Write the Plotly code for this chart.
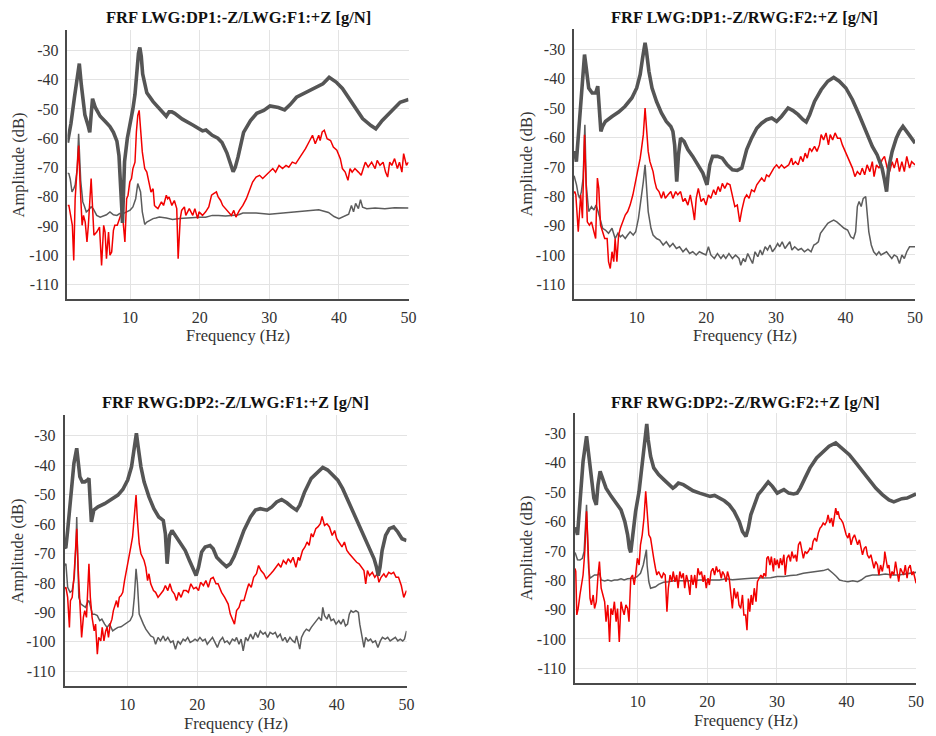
import plotly.graph_objects as go

# ---------------- data (frequency Hz, amplitude dB) ----------------
titles = ["FRF LWG:DP1:-Z/LWG:F1:+Z [g/N]", "FRF LWG:DP1:-Z/RWG:F2:+Z [g/N]",
          "FRF RWG:DP2:-Z/LWG:F1:+Z [g/N]", "FRF RWG:DP2:-Z/RWG:F2:+Z [g/N]"]
x_ticks = [10, 20, 30, 40, 50]
y_ticks = [-110, -100, -90, -80, -70, -60, -50, -40, -30]

p1_thick = [(1.0,-61.5),(1.5,-55),(2.0,-46),(2.4,-38),(2.7,-34.5),(3.0,-42),(3.5,-52),(4.0,-56),(4.2,-58),(4.4,-52),(4.6,-46.5),(5.0,-49.5),(5.7,-52.5),(6.5,-54.5),(7.1,-56),(7.6,-58),(8.1,-61),(8.4,-66),(8.6,-73),(8.8,-84),(8.9,-89),(9.0,-84),(9.2,-68),(9.6,-60),(10.0,-55.5),(10.4,-50),(10.7,-45),(11.0,-36),(11.2,-31),(11.4,-29),(11.6,-32),(11.8,-38),(12.1,-42),(12.4,-44.5),(13.3,-47.5),(14.2,-50),(14.8,-51.5),(15.2,-52.5),(15.6,-51),(16.0,-51),(16.4,-51.5),(17.5,-53.5),(19.0,-55.5),(20.4,-57.5),(20.9,-57.2),(21.8,-59),(22.6,-60),(23.2,-61.5),(23.9,-65),(24.4,-69),(24.8,-71.5),(25.1,-70),(25.5,-66.5),(26.3,-58),(27.3,-54),(28.2,-51.5),(29.2,-50.5),(30.1,-49),(31.3,-49.5),(32.2,-50.3),(33.0,-48.5),(33.9,-46),(35.3,-44.3),(36.7,-42.6),(37.7,-41.4),(38.6,-39.2),(39.6,-40.8),(40.5,-43),(41.9,-48),(43.4,-53.3),(44.6,-55.7),(45.3,-56.8),(46.2,-54),(47.6,-50.5),(48.8,-47.7),(50.0,-46.8)]

p1_red = [(1.0,-83),(1.2,-83),(1.7,-89.8),(1.9,-101.8),(2.1,-80.7),(2.4,-71.6),(2.6,-62.5),(2.8,-75),(3.1,-89.8),(3.3,-86.4),(3.55,-88.7),(3.8,-95.5),(4.0,-89.8),(4.4,-73.8),(4.6,-85.2),(4.8,-93.2),(5.2,-92.1),(5.6,-90.4),(5.9,-103.5),(6.2,-89.8),(6.4,-92.1),(6.6,-101.2),(6.9,-92.1),(7.1,-100),(7.35,-98.9),(7.6,-91.5),(7.8,-89.8),(8.15,-89.8),(8.4,-88.1),(8.8,-85.2),(9.0,-88.7),(9.25,-95.5),(9.5,-80.7),(9.7,-79.5),(9.95,-75),(10.2,-73.8),(10.4,-70.4),(10.7,-68.2),(10.9,-57.9),(11.1,-52.2),(11.3,-50.5),(11.5,-55.6),(11.75,-64.7),(12.1,-70.4),(12.4,-71.6),(12.7,-75),(13.0,-78.4),(13.3,-77.3),(13.5,-83),(13.7,-83.5),(14.0,-84.1),(14.5,-81.8),(14.8,-83),(15.2,-79.5),(15.4,-80.7),(15.6,-80.1),(16.0,-83),(16.35,-81.3),(16.7,-84.1),(16.9,-101.2),(17.2,-87.5),(17.4,-84.7),(17.8,-83.5),(18.0,-86.4),(18.5,-84.1),(19.0,-86.4),(19.3,-84.1),(19.7,-87.5),(19.9,-85.2),(20.4,-86.4),(20.85,-85.2),(21.3,-83.5),(21.7,-79.5),(22.0,-79),(22.4,-78.4),(22.65,-80.1),(23.0,-81.3),(23.3,-83),(23.7,-84.1),(24.2,-85.2),(24.55,-86.4),(24.9,-84.7),(25.2,-87),(25.7,-84.7),(26.2,-83),(26.7,-80.7),(27.2,-77.3),(27.6,-75),(28.1,-73.3),(28.6,-72.7),(29.05,-73.8),(29.5,-72.7),(30.0,-71.6),(30.5,-70.4),(30.9,-71.6),(31.4,-69.3),(31.9,-70.4),(32.4,-69.3),(32.8,-69.9),(33.3,-68.2),(33.8,-68.7),(34.3,-67),(34.7,-65.3),(35.2,-63.6),(35.7,-61.3),(36.2,-59),(36.6,-61.9),(37.1,-59),(37.3,-60.8),(37.6,-57.9),(37.9,-57.3),(38.3,-60.2),(38.8,-60.8),(39.2,-63),(39.7,-64.1),(40.2,-67),(40.5,-70.4),(40.9,-71.6),(41.3,-74.4),(41.6,-70.4),(41.9,-71.6),(42.3,-70.4),(42.8,-71.6),(43.2,-72.7),(43.5,-70.4),(43.8,-68.2),(44.2,-69.9),(44.7,-68.2),(45.2,-70.4),(45.5,-67.6),(45.9,-69.3),(46.35,-68.2),(46.7,-71.6),(47.0,-73.3),(47.3,-68.2),(47.6,-69.3),(48.0,-67),(48.4,-70.4),(48.7,-68.2),(49.05,-71.6),(49.3,-65.3),(49.7,-69.3),(50.0,-68.2)]

p1_thin = [(1.0,-72),(1.2,-72.1),(1.4,-74),(1.65,-78.4),(1.9,-77.3),(2.1,-76),(2.4,-70.4),(2.6,-58.5),(2.9,-74.5),(3.2,-81.8),(3.4,-83),(3.7,-85.2),(4.0,-84.6),(4.4,-83.5),(4.7,-84.1),(5.2,-86.4),(5.7,-87),(6.2,-86.4),(6.6,-86.2),(7.1,-85.2),(7.6,-86.2),(8.1,-86.4),(8.5,-85.8),(9.0,-85.8),(9.5,-85.2),(10.0,-84.6),(10.4,-83.5),(10.8,-80.7),(11.1,-75.5),(11.5,-78.4),(11.75,-85.2),(12.1,-89.5),(12.4,-88.7),(12.8,-88.1),(13.3,-87.5),(13.7,-87.3),(14.2,-87),(15.2,-87.3),(16.1,-87.8),(17.1,-87.5),(18.0,-87.3),(19.0,-87),(19.9,-87),(20.85,-87),(21.8,-86.4),(22.7,-86.4),(23.7,-86.6),(24.6,-86.4),(25.6,-86.2),(26.2,-85.6),(28.1,-85.6),(30.0,-86),(31.9,-85.6),(33.8,-85.2),(35.7,-84.6),(37.1,-84.5),(38.5,-85.4),(39.3,-86.8),(40.0,-87.5),(40.9,-86.6),(41.4,-86),(41.8,-83),(42.1,-85.2),(42.4,-82.3),(42.8,-84.1),(43.1,-81),(43.4,-83.6),(44.0,-84.1),(45.2,-83.9),(46.6,-84.1),(48.0,-83.8),(50.0,-83.9)]

p2_thick = [(1.0,-65.5),(1.1,-64.7),(1.33,-68.2),(1.7,-55.6),(2.2,-40.8),(2.5,-31.7),(2.75,-36.3),(3.1,-43.1),(3.6,-44.8),(4.1,-44.8),(4.4,-42.5),(4.65,-51.1),(4.85,-57.9),(5.1,-56.2),(5.5,-54.5),(6.45,-52.8),(7.4,-51.3),(8.3,-49.4),(9.3,-46.5),(10.0,-43.1),(10.5,-38.5),(10.85,-32.8),(11.2,-27.7),(11.4,-30.6),(11.75,-37.4),(12.2,-43.1),(12.85,-47.7),(13.55,-51.6),(14.25,-54.5),(14.9,-56.2),(15.2,-57.9),(15.45,-62.5),(15.75,-75),(16.0,-65.9),(16.3,-60.2),(16.8,-61.3),(17.35,-64.1),(18.05,-66.4),(18.8,-69.3),(19.5,-72.1),(20.1,-76.1),(20.5,-69.3),(20.9,-66.4),(21.6,-66.4),(22.3,-67),(23.0,-69.3),(23.75,-71),(24.45,-71.2),(25.1,-70.4),(25.8,-64.1),(26.5,-60.2),(27.25,-56.8),(27.95,-55.1),(28.65,-53.9),(29.4,-53.3),(30.1,-54.5),(30.8,-52.8),(31.75,-49.9),(32.45,-50.8),(33.2,-52.2),(33.9,-53.9),(34.35,-54.7),(34.85,-52.2),(35.55,-47.7),(36.5,-43.7),(37.45,-40.8),(38.3,-39.5),(39.1,-40.8),(40.05,-43.1),(41.0,-47.1),(41.95,-52.2),(42.9,-57.9),(43.85,-63),(44.55,-65.9),(45.25,-70.4),(45.6,-74.4),(45.9,-78.4),(46.2,-70.4),(46.7,-64.7),(47.3,-60.2),(47.75,-57.9),(48.25,-56.2),(48.7,-57.9),(49.3,-59.6),(50.0,-61.9)]

p2_red = [(1.0,-79),(1.1,-78.4),(1.25,-79.5),(1.6,-92.1),(1.95,-79.5),(2.2,-87.5),(2.5,-59),(2.65,-69.3),(2.9,-88.7),(3.2,-89.8),(3.5,-88.7),(3.85,-92.1),(4.1,-94.4),(4.35,-73.8),(4.55,-77.3),(4.8,-89.8),(5.1,-92.1),(5.4,-94.4),(5.75,-94.4),(5.95,-102.3),(6.2,-104.6),(6.45,-98.9),(6.7,-102.3),(6.9,-94.4),(7.15,-102.3),(7.4,-93.2),(7.65,-90.9),(7.95,-88.7),(8.35,-86.4),(8.7,-85.2),(9.05,-83),(9.45,-79.5),(9.75,-76.1),(10.0,-72.7),(10.25,-69.3),(10.5,-67),(10.7,-63.6),(10.95,-59),(11.2,-49.9),(11.4,-57.9),(11.65,-64.7),(11.9,-68.2),(12.15,-70.4),(12.35,-71.6),(12.6,-75),(12.85,-77.3),(13.2,-78.4),(13.55,-80.7),(13.85,-78.4),(14.1,-80.7),(14.5,-79.5),(14.9,-78.4),(15.2,-80.7),(15.6,-78.4),(15.9,-79.5),(16.3,-78.4),(16.65,-81.8),(16.95,-80.7),(17.35,-83),(17.7,-79.5),(18.05,-84.1),(18.3,-88.1),(18.55,-80.7),(18.85,-77.3),(19.25,-81.8),(19.6,-80.7),(19.95,-83),(20.3,-79.5),(20.65,-80.7),(21.05,-77.8),(21.35,-79.5),(21.7,-76.7),(22.0,-78.4),(22.3,-75.6),(22.65,-77.3),(23.0,-75.6),(23.4,-76.1),(23.75,-79.5),(24.1,-83.5),(24.45,-83),(24.8,-88.7),(25.1,-84.7),(25.5,-80.7),(25.8,-79.5),(26.15,-80.7),(26.5,-77.8),(26.9,-78.4),(27.25,-76.1),(27.6,-75),(27.95,-73.8),(28.35,-75),(28.65,-72.7),(29.0,-73.3),(29.4,-71.6),(29.7,-70.4),(30.1,-69.3),(30.45,-70.4),(30.8,-69.3),(31.2,-70.4),(31.5,-69.9),(31.85,-69.3),(32.25,-67),(32.45,-69.3),(32.8,-68.2),(33.2,-69.3),(33.55,-66.4),(33.9,-68.2),(34.2,-65.3),(34.5,-67),(34.85,-63.6),(35.15,-64.7),(35.55,-63),(35.9,-64.7),(36.25,-62.5),(36.5,-59),(36.85,-60.8),(37.2,-58.4),(37.55,-62.5),(37.8,-59),(38.15,-60.8),(38.5,-58.4),(38.85,-60.2),(39.25,-60.2),(39.55,-62.5),(40.05,-65.3),(40.5,-68.2),(41.0,-70.4),(41.35,-73.3),(41.7,-71.6),(42.1,-72.7),(42.4,-70.4),(42.75,-72.7),(43.1,-69.3),(43.5,-71.6),(43.85,-68.2),(44.1,-73.3),(44.45,-69.3),(44.8,-70.4),(45.25,-67.6),(45.6,-66.4),(46.0,-70.4),(46.35,-71.6),(46.7,-68.2),(47.0,-70.4),(47.4,-67),(47.75,-71.6),(48.1,-68.2),(48.45,-71.6),(48.8,-66.4),(49.2,-70.4),(49.5,-68.2),(50.0,-69.3)]

p2_thin = [(1.0,-73),(1.1,-73.8),(1.35,-76.1),(1.6,-79.5),(1.8,-80.7),(2.05,-78.4),(2.3,-73.8),(2.55,-55.6),(2.75,-76.1),(3.1,-85.2),(3.5,-83.5),(3.85,-84.7),(4.15,-83),(4.45,-85.2),(4.8,-88.7),(5.1,-90.9),(5.5,-91.5),(5.95,-92.6),(6.45,-90.9),(6.9,-94.4),(7.3,-92.6),(7.65,-93.8),(7.95,-93.2),(8.35,-94.4),(8.7,-93.2),(9.05,-92.1),(9.5,-93.2),(9.85,-92.1),(10.25,-87.5),(10.6,-81.8),(10.95,-75),(11.2,-69.3),(11.4,-78.4),(11.65,-85.2),(12.05,-90.9),(12.35,-93.2),(12.85,-94.4),(13.3,-94.9),(13.8,-96.6),(14.25,-95.5),(14.75,-97.2),(15.2,-96.1),(15.7,-97.8),(16.15,-97.2),(16.65,-98.9),(17.1,-97.8),(17.6,-99.5),(18.05,-98.9),(18.55,-100),(19.0,-98.9),(19.5,-99.5),(19.95,-100),(20.3,-97.2),(20.65,-100),(21.15,-101.2),(21.6,-99.5),(22.1,-101.2),(22.45,-100),(22.8,-101.2),(23.25,-99.5),(23.75,-101.2),(24.2,-100),(24.7,-101.2),(24.95,-103.5),(25.3,-101.2),(25.6,-102.3),(25.95,-99.5),(26.3,-101.2),(26.65,-102.9),(27.0,-98.9),(27.4,-100.6),(27.75,-98.3),(28.05,-100),(28.45,-97.2),(28.8,-98.3),(29.15,-96.6),(29.5,-98.9),(29.85,-97.8),(30.25,-96.1),(30.55,-97.2),(30.9,-95.5),(31.3,-97.8),(31.65,-96.6),(32.0,-95.5),(32.3,-98.3),(32.7,-97.2),(33.2,-98.3),(33.65,-97.8),(34.1,-98.9),(34.6,-98),(35.05,-98.9),(35.45,-96.6),(35.8,-96.1),(36.1,-95.5),(36.4,-92.6),(36.75,-91.5),(37.05,-90.4),(37.45,-89.2),(37.8,-88.7),(38.3,-88.1),(38.75,-88.7),(39.25,-89.8),(39.8,-90.9),(40.3,-91.5),(40.75,-93.8),(41.15,-94.4),(41.45,-92.1),(41.7,-83.5),(41.95,-81.8),(42.25,-83.5),(42.55,-80.7),(42.9,-80.1),(43.1,-85.2),(43.35,-92.1),(43.7,-96.6),(44.05,-98.9),(44.45,-100),(44.8,-98.9),(45.1,-100),(45.5,-99.5),(45.9,-98.9),(46.25,-100),(46.65,-101.2),(47.0,-100),(47.4,-100.6),(47.75,-102.9),(48.1,-100),(48.45,-101.2),(48.8,-98.9),(49.2,-97.2),(49.5,-97.2),(50.0,-97.2)]

p3_thick = [(1.0,-68),(1.2,-67.8),(1.45,-62.2),(1.95,-49.7),(2.35,-39.4),(2.75,-34.3),(2.95,-38.3),(3.2,-44),(3.55,-45.7),(3.9,-45.7),(4.3,-45.1),(4.5,-44.5),(4.7,-53.1),(4.85,-59.3),(5.2,-55.3),(5.8,-54.2),(6.75,-53.1),(7.7,-51.7),(8.65,-50.2),(9.35,-48.3),(10.05,-45.1),(10.6,-40.6),(11.0,-34.9),(11.3,-29.2),(11.55,-33.8),(11.95,-40.6),(12.4,-45.7),(13.1,-50.8),(13.8,-54.8),(14.5,-57.6),(15.15,-58.8),(15.45,-63.3),(15.7,-73.5),(16.05,-63.9),(16.4,-62.2),(16.9,-63.9),(17.6,-66.7),(18.3,-69),(18.9,-72.4),(19.5,-75.8),(19.85,-77.5),(20.2,-74.7),(20.65,-69.5),(21.15,-67.8),(21.85,-67.3),(22.3,-68.4),(22.8,-71.3),(23.5,-73),(24.2,-74.5),(24.75,-73.5),(25.3,-71),(26.0,-66.7),(26.7,-62.2),(27.65,-57.6),(28.35,-55.3),(29.05,-54.8),(30.0,-55.3),(30.7,-54.2),(31.4,-52.5),(32.1,-51.7),(32.85,-52.8),(33.55,-54.2),(34.25,-55.3),(34.7,-53.6),(35.4,-49.1),(36.35,-44.5),(37.3,-42.3),(38.0,-40.8),(38.7,-41.7),(39.45,-43.4),(40.15,-45.1),(40.85,-48),(41.8,-53.1),(42.75,-58.2),(43.7,-63.3),(44.6,-67.8),(45.35,-71.8),(45.7,-74.7),(45.95,-77.5),(46.2,-74.7),(46.5,-69),(47.0,-63.9),(47.55,-61.6),(48.15,-61),(48.75,-62.7),(49.35,-65),(50.0,-65.6)]

p3_red = [(1.0,-82),(1.2,-81.5),(1.45,-84.9),(1.7,-95.1),(1.85,-86),(2.1,-84.9),(2.35,-78.1),(2.6,-66.7),(2.75,-61.6),(2.95,-74.7),(3.2,-89.4),(3.45,-98.5),(3.7,-91.7),(3.9,-89.4),(4.15,-91.7),(4.5,-73.5),(4.7,-84.9),(4.95,-91.7),(5.25,-96.3),(5.45,-94),(5.7,-104.2),(5.9,-98.5),(6.2,-99.7),(6.4,-95.1),(6.65,-99.7),(6.9,-96.3),(7.1,-95.1),(7.3,-98.5),(7.55,-94),(7.8,-92.3),(8.0,-89.4),(8.25,-87.7),(8.45,-86),(8.65,-88.3),(8.85,-84.9),(9.1,-84.3),(9.35,-83.2),(9.6,-79.2),(9.8,-76.9),(10.05,-73.5),(10.3,-71.3),(10.5,-67.8),(10.75,-64.4),(11.0,-57.6),(11.25,-50.2),(11.45,-58.8),(11.7,-66.7),(11.95,-70.1),(12.15,-71.3),(12.4,-72.4),(12.65,-74.7),(12.9,-79.2),(13.1,-76.9),(13.35,-80.3),(13.75,-82.6),(14.05,-83.2),(14.4,-84.9),(14.75,-83.8),(15.15,-82.6),(15.45,-80.9),(15.8,-82.6),(16.1,-80.3),(16.4,-82.6),(16.75,-83.8),(17.05,-86),(17.35,-83.2),(17.7,-84.9),(18.05,-82.6),(18.45,-82.6),(18.75,-83.2),(19.1,-80.3),(19.5,-82),(19.85,-81.5),(20.2,-82.6),(20.5,-79.8),(20.9,-80.9),(21.25,-79.2),(21.6,-81.5),(21.95,-78.6),(22.3,-78.1),(22.7,-80.3),(23.0,-80.3),(23.5,-83.2),(23.95,-84.9),(24.45,-87.2),(24.75,-90.6),(25.05,-92.3),(25.35,-94),(25.65,-89.4),(26.0,-88.3),(26.3,-86),(26.7,-86),(27.1,-82.6),(27.4,-80.3),(27.75,-81.5),(28.1,-78.1),(28.5,-76.9),(28.8,-74.1),(29.15,-75.8),(29.55,-76.9),(29.9,-78.6),(30.25,-77.5),(30.55,-76.9),(30.95,-75.8),(31.3,-74.7),(31.65,-73.5),(32.0,-74.7),(32.35,-72.4),(32.75,-73.5),(33.05,-71.8),(33.4,-73),(33.75,-71.3),(34.15,-74.7),(34.5,-71.3),(34.7,-72.4),(35.1,-69),(35.45,-67.8),(35.75,-66.1),(36.05,-67.3),(36.35,-63.3),(36.6,-64.4),(37.0,-61.6),(37.3,-61),(37.65,-59.9),(37.9,-57.4),(38.25,-60.5),(38.6,-59.9),(38.95,-61),(39.35,-63.9),(39.7,-62.2),(40.0,-65),(40.4,-66.7),(40.75,-67.8),(41.1,-66.1),(41.45,-69),(41.8,-70.1),(42.2,-71.3),(42.5,-71.8),(42.85,-73),(43.2,-73.5),(43.6,-74.7),(43.9,-75.8),(44.15,-80.3),(44.4,-75.8),(44.7,-77.5),(45.1,-76.4),(45.45,-78.1),(45.8,-76.9),(46.05,-79.8),(46.35,-78.1),(46.75,-76.9),(47.05,-78.1),(47.45,-76.4),(47.8,-76.9),(48.15,-76.4),(48.5,-78.1),(48.85,-78.1),(49.25,-80.9),(49.6,-84.9),(50.0,-82.6)]

p3_thin = [(1.0,-74),(1.2,-73.5),(1.45,-81.5),(1.8,-83.2),(2.1,-82.6),(2.4,-78.1),(2.65,-66.7),(2.75,-57.6),(2.9,-72.4),(3.05,-84.9),(3.35,-87.2),(3.7,-87.7),(4.0,-88.3),(4.3,-86.6),(4.5,-86),(4.75,-88.3),(5.0,-90.6),(5.3,-90.6),(5.7,-91.1),(6.05,-92.8),(6.35,-92.3),(6.75,-94),(7.1,-95.1),(7.45,-94),(7.7,-95.1),(7.9,-96.3),(8.25,-95.7),(8.65,-95.1),(9.1,-94.9),(9.6,-94),(10.05,-93.4),(10.4,-92.8),(10.75,-91.1),(11.0,-84.9),(11.25,-75.2),(11.45,-80.3),(11.7,-90.6),(11.95,-92.3),(12.3,-94),(12.65,-95.7),(12.95,-96.8),(13.35,-98),(13.75,-98.5),(14.05,-100.8),(14.4,-98.5),(14.75,-99.7),(15.15,-98),(15.45,-99.7),(15.8,-98.5),(16.2,-100.2),(16.55,-99.7),(16.9,-102.5),(17.25,-99.7),(17.6,-100.8),(18.0,-99.1),(18.3,-99.7),(18.65,-98.5),(19.0,-100.2),(19.4,-99.7),(19.7,-99.1),(20.05,-99.7),(20.4,-98.5),(20.8,-99.7),(21.15,-99.1),(21.45,-100.8),(21.85,-99.7),(22.2,-98.5),(22.55,-100.2),(22.9,-101.9),(23.25,-99.7),(23.65,-98.5),(23.95,-100.2),(24.3,-99.7),(24.65,-100.8),(25.05,-99.1),(25.4,-99.7),(25.65,-98.5),(26.0,-100.8),(26.3,-99.1),(26.6,-103.1),(26.95,-98.5),(27.25,-99.7),(27.65,-97.4),(28.0,-99.1),(28.35,-96.8),(28.7,-98.5),(29.05,-96.3),(29.45,-97.4),(29.75,-96.8),(30.1,-98.5),(30.45,-96.8),(30.85,-97.4),(31.2,-96.8),(31.5,-98.5),(31.9,-97.4),(32.25,-99.7),(32.6,-98.5),(32.9,-100.2),(33.3,-98.5),(33.7,-99.7),(34.0,-100.2),(34.25,-98),(34.5,-100.8),(34.7,-102.5),(34.95,-98.5),(35.3,-96.8),(35.65,-95.7),(36.05,-96.3),(36.35,-95.1),(36.7,-94),(37.1,-92.8),(37.45,-91.7),(37.8,-92.8),(38.0,-88.3),(38.25,-91.1),(38.6,-92.3),(38.85,-90.6),(39.2,-92.8),(39.55,-92.3),(39.9,-94),(40.3,-92.8),(40.6,-94),(40.95,-92.3),(41.25,-94.6),(41.55,-94),(41.8,-90.6),(42.05,-89.4),(42.35,-90),(42.75,-89.4),(43.1,-90),(43.3,-94),(43.6,-98.5),(43.9,-101.9),(44.15,-98.5),(44.5,-99.7),(44.85,-99.1),(45.15,-100.2),(45.55,-99.7),(45.9,-101.9),(46.25,-99.7),(46.55,-98.5),(46.95,-99.1),(47.3,-98.5),(47.65,-99.7),(47.95,-99.1),(48.4,-98.5),(48.75,-99.7),(49.1,-99.1),(49.45,-99.7),(49.7,-99.1),(50.0,-96.3)]

p4_thick = [(1.0,-62.5),(1.1,-62.2),(1.35,-64.5),(1.7,-54.3),(2.15,-39.5),(2.65,-30.9),(2.95,-37.2),(3.35,-45.1),(3.7,-52),(4.05,-54.3),(4.3,-47.4),(4.6,-42.9),(5.0,-45.7),(5.45,-48.6),(6.2,-51.4),(6.9,-53.7),(7.6,-56),(8.15,-60),(8.55,-64.5),(8.8,-69.1),(9.0,-70.5),(9.3,-64.5),(9.7,-56.5),(10.2,-49.7),(10.65,-40.6),(11.0,-32.6),(11.3,-26.7),(11.5,-32),(11.85,-37.7),(12.3,-41.7),(13.0,-44),(13.75,-45.7),(14.45,-47.2),(15.05,-48.6),(15.4,-48),(15.85,-46.9),(16.55,-47.4),(17.25,-48.6),(17.95,-49.5),(18.9,-50.3),(19.85,-51.1),(20.4,-51.4),(21.05,-51.1),(21.75,-52),(22.45,-52.9),(23.15,-54.3),(23.85,-56.5),(24.6,-60),(25.05,-63.4),(25.55,-65.1),(25.9,-62.2),(26.25,-57.7),(26.75,-54.3),(27.3,-50.8),(27.9,-49.1),(28.4,-47.4),(28.75,-46.5),(29.35,-48),(30.05,-50.3),(30.5,-49.7),(31.0,-49.1),(31.7,-50.3),(32.4,-50.6),(32.9,-50.3),(33.35,-48.6),(34.05,-45.1),(34.75,-41.7),(35.7,-38.3),(36.65,-36),(37.5,-34.3),(38.45,-33.2),(39.0,-34.3),(39.7,-36),(40.4,-37.2),(41.35,-40),(42.3,-42.9),(43.25,-45.7),(44.2,-48.6),(45.15,-50.8),(46.1,-52.6),(46.8,-53.3),(47.25,-52.9),(47.95,-52.2),(48.7,-52),(49.4,-51.4),(50.0,-50.6)]

p4_red = [(1.0,-76),(1.1,-77),(1.25,-91.8),(1.45,-89.6),(1.7,-85),(1.95,-80.5),(2.15,-78.2),(2.4,-70.2),(2.65,-56.5),(2.8,-64.5),(2.95,-77),(3.15,-86.2),(3.35,-88.4),(3.6,-85),(3.8,-89.6),(4.05,-87.3),(4.3,-78.2),(4.5,-73.6),(4.75,-82.7),(5.0,-85),(5.25,-87.3),(5.45,-94.1),(5.7,-88.4),(5.95,-101),(6.15,-89.6),(6.4,-91.8),(6.65,-87.3),(6.9,-94.1),(7.1,-89.6),(7.35,-101),(7.6,-87.3),(7.8,-89.6),(8.05,-91.8),(8.3,-88.4),(8.55,-89.6),(8.75,-94.1),(9.0,-79.3),(9.25,-78.2),(9.5,-81.6),(9.7,-78.2),(9.95,-72.5),(10.2,-74.8),(10.4,-67.9),(10.65,-64.5),(10.9,-58.8),(11.15,-49.7),(11.35,-57.7),(11.6,-64.5),(11.85,-65.6),(12.05,-69.1),(12.3,-72.5),(12.55,-75.9),(12.75,-78.2),(13.0,-77),(13.25,-78.2),(13.45,-79.3),(13.7,-77.6),(13.95,-78.2),(14.2,-90.7),(14.4,-82.7),(14.65,-78.2),(14.9,-80.5),(15.1,-77),(15.35,-80.5),(15.6,-78.2),(15.8,-82.7),(16.05,-77),(16.3,-79.3),(16.55,-77.6),(16.75,-82.7),(17.0,-78.2),(17.25,-80.5),(17.5,-85),(17.7,-78.2),(17.95,-81.6),(18.2,-78.2),(18.4,-82.7),(18.65,-75.9),(18.9,-78.2),(19.15,-77),(19.4,-80.5),(19.6,-78.2),(19.85,-82.7),(20.1,-79.3),(20.3,-81.6),(20.55,-77),(20.8,-75.9),(21.05,-78.2),(21.3,-75.3),(21.5,-77),(21.75,-76.5),(22.0,-79.3),(22.2,-77),(22.45,-78.2),(22.7,-80.5),(22.9,-77),(23.15,-79.3),(23.4,-85),(23.6,-89.6),(23.85,-82.7),(24.1,-86.2),(24.35,-83.9),(24.55,-88.4),(24.8,-89.6),(25.05,-85),(25.25,-91.8),(25.5,-91.8),(25.7,-97),(25.9,-86.2),(26.1,-90.7),(26.3,-85),(26.5,-88.4),(26.75,-82.7),(27.0,-87.3),(27.2,-80.5),(27.45,-79.3),(27.7,-78.2),(27.95,-79.3),(28.15,-77.6),(28.4,-78.7),(28.55,-72.5),(28.75,-71.9),(29.0,-74.8),(29.2,-71.9),(29.5,-77),(29.65,-72.5),(29.85,-74.8),(30.05,-73),(30.3,-75.9),(30.5,-72.5),(30.75,-74.8),(31.0,-71.3),(31.2,-78.2),(31.45,-72.5),(31.7,-71.3),(31.95,-73.6),(32.15,-70.2),(32.4,-72.5),(32.65,-71.3),(32.85,-73.6),(33.1,-67.9),(33.35,-66.8),(33.6,-70.2),(33.8,-72.5),(34.05,-70.2),(34.3,-70.8),(34.5,-70.2),(34.75,-69.1),(35.0,-69.6),(35.2,-66.8),(35.45,-65.6),(35.7,-66.8),(35.95,-63.9),(36.2,-62.2),(36.4,-61.7),(36.65,-60.5),(36.9,-61.1),(37.15,-60),(37.35,-57.7),(37.6,-60.5),(37.85,-58.8),(38.05,-61.7),(38.3,-57.7),(38.45,-55.4),(38.65,-57.7),(38.8,-56.5),(39.0,-58.8),(39.25,-59.4),(39.5,-60.5),(39.7,-62.2),(39.95,-64.5),(40.2,-65.6),(40.4,-63.9),(40.65,-67.9),(40.9,-65.6),(41.15,-64.5),(41.35,-66.2),(41.6,-67.9),(41.85,-66.2),(42.1,-69.6),(42.3,-71.3),(42.55,-69.1),(42.8,-68.5),(43.0,-71.3),(43.25,-72.5),(43.5,-71.3),(43.7,-73.6),(43.95,-75.9),(44.2,-73.6),(44.45,-74.8),(44.65,-78.2),(44.9,-74.8),(45.15,-77),(45.4,-73.6),(45.5,-70.2),(45.7,-72.5),(45.9,-75.9),(46.1,-74.8),(46.3,-79.3),(46.55,-77),(46.8,-78.2),(47.05,-73.6),(47.3,-78.2),(47.5,-80.5),(47.75,-75.9),(47.95,-77),(48.2,-78.2),(48.45,-74.8),(48.7,-79.3),(48.9,-75.9),(49.15,-74.8),(49.4,-78.2),(49.6,-77),(50.0,-81)]

p4_thin = [(1.0,-70.5),(1.1,-71.3),(1.35,-73),(1.7,-73.1),(2.05,-72.5),(2.3,-70.2),(2.55,-61.1),(2.65,-54.3),(2.8,-66.8),(2.95,-75.9),(3.15,-79.3),(3.45,-78.7),(3.8,-78.2),(4.2,-78.2),(4.5,-77.6),(4.75,-79.9),(5.25,-80.2),(5.7,-79.9),(6.2,-80.2),(6.65,-79.9),(7.1,-79.9),(7.6,-79.5),(8.05,-79.9),(8.55,-79.5),(9.0,-79.5),(9.5,-79.3),(9.95,-78.7),(10.4,-77.6),(10.8,-74.8),(11.1,-71.3),(11.25,-69.6),(11.35,-74.8),(11.6,-80.5),(11.85,-82.7),(12.2,-82.5),(12.55,-82.2),(13.0,-81.4),(13.7,-80.7),(14.45,-80.5),(15.15,-80.2),(16.1,-80.2),(17.0,-80.2),(17.95,-80.2),(18.9,-79.9),(19.85,-80),(20.8,-79.9),(21.75,-79.9),(22.7,-79.5),(23.6,-79.8),(24.55,-79.5),(25.35,-79.5),(26.3,-79.3),(27.2,-79.3),(28.15,-79.1),(29.1,-79.1),(30.05,-78.7),(31.0,-78.7),(31.95,-78.4),(32.85,-78.2),(33.8,-77.6),(34.75,-77.3),(35.7,-77),(36.65,-76.7),(37.35,-76.2),(37.7,-76.8),(38.05,-77.6),(38.55,-78.7),(39.0,-79.9),(39.5,-80.2),(40.2,-80.5),(40.9,-80.2),(41.6,-80.5),(42.1,-79.9),(42.8,-78.7),(43.7,-78.2),(44.65,-78.2),(45.6,-77.9),(46.55,-78.2),(47.5,-78.2),(48.45,-77.8),(49.4,-77.6),(50.0,-77.3)]

# ---------------- layout geometry ----------------
OFF = 8  # default html body margin
W, H = 936 - OFF, 736 - OFF
boxes = [(68, 412, 30, 299), (579, 923, 29, 299), (65, 410, 415, 686), (580, 924, 413, 683)]
title_y = [18, 18, 403, 402]
ylabel_x = [19, 531, 18, 531]
series = [(p1_thick, p1_red, p1_thin), (p2_thick, p2_red, p2_thin),
          (p3_thick, p3_red, p3_thin), (p4_thick, p4_red, p4_thin)]

def px(x):
    return (x - OFF) / W

def py(y):
    return 1 - (y - OFF) / H

SERIF = "Liberation Serif"
THICK = "#555555"
THIN = "#5c5c5c"
RED = "#f20000"
TXT = "#333333"

fig = go.Figure()
annotations = []
for i, ((l, r, t, b), (thick, red, thin), title) in enumerate(zip(boxes, series, titles)):
    n = "" if i == 0 else str(i + 1)
    xa, ya = "x" + n, "y" + n
    for data, color, width in ((thin, THIN, 1.5), (red, RED, 1.5), (thick, THICK, 3.6)):
        fig.add_trace(go.Scatter(x=[p[0] for p in data], y=[p[1] for p in data], mode="lines",
                                 line=dict(color=color, width=width), xaxis=xa, yaxis=ya,
                                 showlegend=False, hoverinfo="skip"))
    fig.layout["xaxis" + n] = dict(domain=[px(l), px(r)], anchor=ya, range=[1, 50],
                                   tickvals=x_ticks, ticktext=[str(v) for v in x_ticks],
                                   showgrid=True, gridcolor="#e3e3e3", gridwidth=1,
                                   showline=True, linecolor="#4a4a4a", linewidth=1.5,
                                   zeroline=False, ticks="outside", ticklen=3,
                                   tickcolor="rgba(0,0,0,0)",
                                   tickfont=dict(family=SERIF, size=16, color=TXT))
    fig.layout["yaxis" + n] = dict(domain=[py(b), py(t)], anchor=xa, range=[-115, -23],
                                   tickvals=y_ticks, ticktext=["-%d" % abs(v) for v in y_ticks],
                                   showgrid=True, gridcolor="#e3e3e3", gridwidth=1,
                                   showline=True, linecolor="#4a4a4a", linewidth=1.5,
                                   zeroline=False, ticks="outside", ticklen=4,
                                   tickcolor="rgba(0,0,0,0)",
                                   tickfont=dict(family=SERIF, size=16, color=TXT))
    cx = (l + r) / 2
    annotations.append(dict(text=title, x=px(cx), y=py(title_y[i]),
                            xref="paper", yref="paper", xanchor="center", yanchor="middle",
                            showarrow=False,
                            font=dict(family=SERIF, size=16.5, color="#111111", weight="bold")))
    annotations.append(dict(text="Frequency (Hz)", x=px(cx), y=py(b + 37),
                            xref="paper", yref="paper", xanchor="center", yanchor="middle",
                            showarrow=False, font=dict(family=SERIF, size=16.5, color=TXT)))
    annotations.append(dict(text="Amplitude (dB)", x=px(ylabel_x[i]), y=py((t + b) / 2),
                            xref="paper", yref="paper", xanchor="center", yanchor="middle",
                            textangle=-90, showarrow=False,
                            font=dict(family=SERIF, size=16.5, color=TXT)))

fig.update_layout(width=W, height=H, margin=dict(l=0, r=0, t=0, b=0),
                  paper_bgcolor="white", plot_bgcolor="white", annotations=annotations)
fig.write_html("out.html")
